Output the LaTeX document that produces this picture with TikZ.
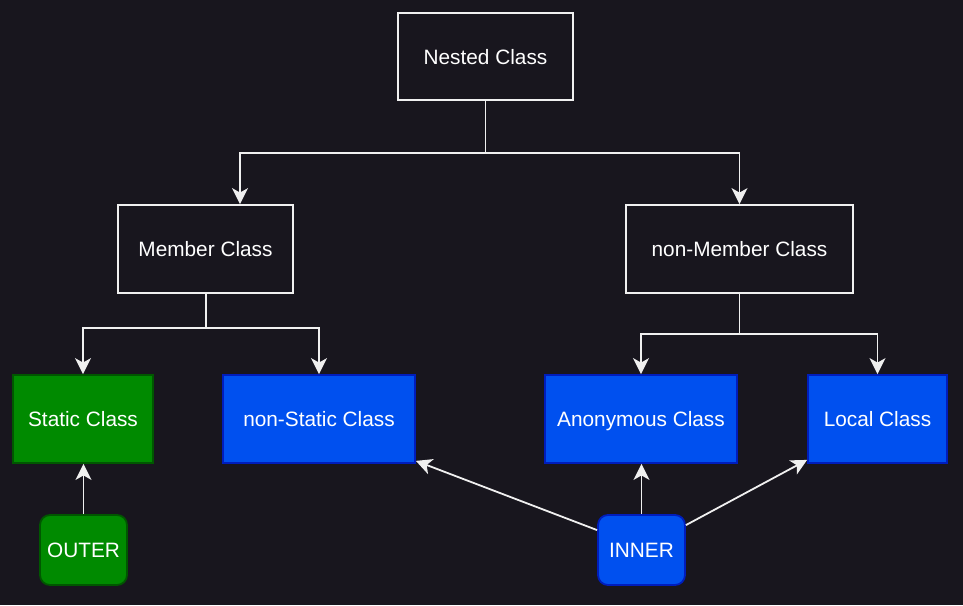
\documentclass[tikz,border=0pt]{standalone}
\usepackage{fontspec}
\setmainfont{Liberation Sans}
\usetikzlibrary{arrows.meta}
\definecolor{bgc}{HTML}{18161E}
\definecolor{linec}{HTML}{F0F0F0}
\definecolor{greenf}{HTML}{008A00}
\definecolor{greend}{HTML}{005700}
\definecolor{bluef}{HTML}{0050EF}
\definecolor{blued}{HTML}{001DBC}
\tikzset{
  base/.style={rectangle, inner sep=0pt, line width=1.8pt, text=white,
    font=\fontsize{20.8}{24}\selectfont, align=center, text height=15pt, text depth=0pt},
  darkbox/.style={base, draw=linec, fill=bgc},
  greenbox/.style={base, draw=greend, fill=greenf},
  bluebox/.style={base, draw=blued, fill=bluef},
  arr/.style={draw=linec, line width=1.8pt, -{Stealth[length=16pt,width=16pt,inset=4.5pt]}},
  conn/.style={draw=linec, line width=1.8pt}
}
\begin{document}
\begin{tikzpicture}[x=1pt,y=-1pt]
\fill[bgc] (0,0) rectangle (963,605);
\useasboundingbox (0,0) rectangle (963,605);

\node[darkbox, minimum width=175pt, minimum height=87pt] (nested) at (485.5,56.5) {Nested Class};
\node[darkbox, minimum width=175pt, minimum height=88pt] (member) at (205.5,249) {Member Class};
\node[darkbox, minimum width=227pt, minimum height=88pt] (nonmember) at (739.5,249) {non-Member Class};

\node[greenbox, minimum width=140pt, minimum height=88pt] (static) at (83,419) {Static Class};
\node[bluebox, minimum width=192pt, minimum height=88pt] (nonstatic) at (319,419) {non-Static Class};
\node[bluebox, minimum width=192pt, minimum height=88pt] (anon) at (641,419) {Anonymous Class};
\node[bluebox, minimum width=139pt, minimum height=88pt] (local) at (877.5,419) {Local Class};

\node[greenbox, rounded corners=10pt, minimum width=87pt, minimum height=70pt] (outer) at (83.5,550) {OUTER};
\node[bluebox, rounded corners=10pt, minimum width=87pt, minimum height=70pt] (inner) at (641.5,550) {INNER};

\coordinate (j1) at (485.5,153);
\coordinate (j2) at (206,328);
\coordinate (j3) at (739.5,334);

\draw[conn] (nested.south) -- (j1);
\draw[arr] (j1) -| ([xshift=34.5pt]member.north);
\draw[arr] (j1) -| (nonmember.north);

\draw[conn] (member.south -| j2) -- (j2);
\draw[arr] (j2) -| (static.north);
\draw[arr] (j2) -| (nonstatic.north);

\draw[conn] (nonmember.south) -- (j3);
\draw[arr] (j3) -| (anon.north);
\draw[arr] (j3) -| (local.north);

\draw[arr] (outer.north) -- (outer.north |- static.south);
\draw[arr] (inner.north) -- (inner.north |- anon.south);
\draw[arr] ([yshift=-16pt]inner.north west) -- ([yshift=3pt]nonstatic.south east);
\draw[arr] ([yshift=-11pt]inner.north east) -- ([yshift=4pt]local.south west);
\end{tikzpicture}
\end{document}
